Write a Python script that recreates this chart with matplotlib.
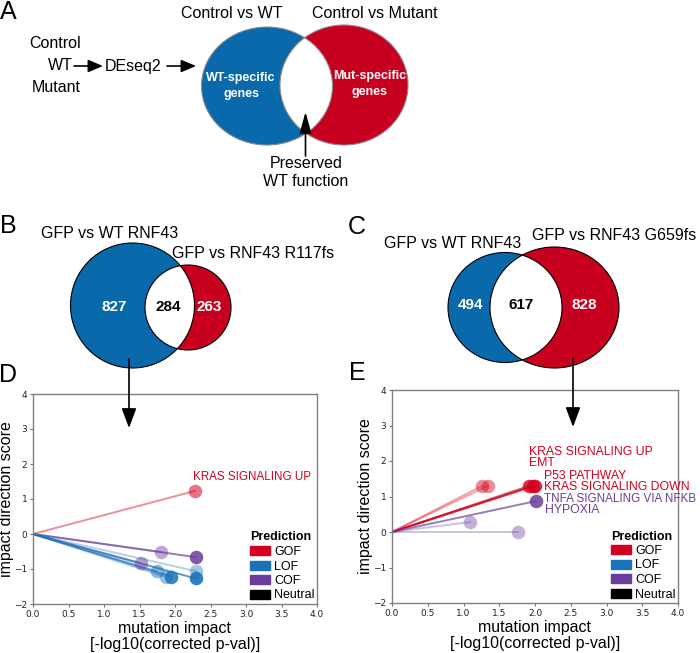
import matplotlib
matplotlib.use('Agg')
import matplotlib.pyplot as plt
from matplotlib.patches import Ellipse, Patch

SANS = 'Liberation Sans'

# panel B / C venn counts (left only, shared, right only)
venn_b = [827, 284, 263]
venn_c = [494, 617, 828]
sets_b = ['GFP vs WT RNF43', 'GFP vs RNF43 R117fs']
sets_c = ['GFP vs WT RNF43', 'GFP vs RNF43 G659fs']

# panel D: mutation impact vs impact direction score
d_x = [2.28, 1.80, 2.29, 1.52, 1.74, 1.87, 1.95, 2.29, 2.29]
d_y = [1.23, -0.51, -0.66, -0.83, -1.06, -1.23, -1.22, -1.06, -1.27]
d_pred = ['GOF', 'COF', 'COF', 'COF', 'LOF', 'LOF', 'LOF', 'LOF', 'LOF']
d_strength = [0.55, 0.45, 0.85, 0.5, 0.5, 0.45, 0.85, 0.4, 0.9]
d_names = ['KRAS SIGNALING UP']

# panel E
e_x = [1.26, 1.34, 1.92, 1.97, 2.00, 2.01, 1.09, 1.76]
e_y = [1.30, 1.30, 1.30, 1.30, 1.30, 0.87, 0.28, 0.00]
e_pred = ['GOF', 'GOF', 'GOF', 'GOF', 'GOF', 'COF', 'COF', 'COF']
e_strength = [0.45, 0.45, 0.8, 0.8, 0.8, 0.85, 0.4, 0.4]
e_names = ['KRAS SIGNALING UP', 'EMT', 'P53 PATHWAY', 'KRAS SIGNALING DOWN',
           'TNFA SIGNALING VIA NFKB', 'HYPOXIA']
e_name_pred = ['GOF', 'GOF', 'GOF', 'GOF', 'COF', 'COF']

pred_order = ['GOF', 'LOF', 'COF', 'Neutral']
pred_col = {'GOF': '#d4001f', 'LOF': '#1a72b8', 'COF': '#6a3d9a', 'Neutral': 'black'}
venn_blue = '#0a69ab'
venn_red = '#c8001f'

fig = plt.figure(figsize=(7, 6.53), dpi=100)


def scatter_panel(rect, xs, ys, preds, strength, ylab_x):
    ax = fig.add_axes(rect)
    for x, y, p, a in zip(xs, ys, preds, strength):
        ax.plot([0, x], [0, y], color=pred_col[p], alpha=a * 0.8, lw=1.4, zorder=2)
        ax.scatter([x], [y], s=95, color=pred_col[p], alpha=a, lw=0, zorder=3)
    ax.set_xlim(0, 4)
    ax.set_ylim(-2, 4)
    ax.set_xticks([i * 0.5 for i in range(9)])
    ax.set_xticklabels(['%.1f' % (i * 0.5) for i in range(9)])
    ax.set_yticks(range(-2, 5))
    ax.tick_params(labelsize=6.5, length=2.5, width=0.8, color='0.45', labelcolor='#222', pad=1.5)
    for s in ax.spines.values():
        s.set_color('0.5')
        s.set_linewidth(1.0)
    ax.set_xlabel('mutation impact\n[-log10(corrected p-val)]', family=SANS,
                  fontsize=11.5, labelpad=2, linespacing=1.05)
    ax.set_ylabel('impact direction score', family=SANS, fontsize=11.5)
    ax.yaxis.set_label_coords(ylab_x, 0.5)
    handles = [Patch(color=pred_col[p], label=p) for p in pred_order]
    leg = ax.legend(handles=handles, title='Prediction', loc='lower right',
                    frameon=False, borderaxespad=0.1, handlelength=1.6,
                    handleheight=0.75, handletextpad=0.3, labelspacing=0.2,
                    prop={'family': SANS, 'size': 9}, alignment='left',
                    borderpad=0.1)
    leg.get_title().set_fontfamily(SANS)
    leg.get_title().set_fontsize(9)
    leg.get_title().set_fontweight('bold')
    return ax


axd = scatter_panel([33 / 700, 1 - 604 / 653, 284 / 700, 210 / 653],
                    d_x, d_y, d_pred, d_strength, -0.068)
axd.text(2.25, 1.63, d_names[0], color=pred_col['GOF'], family=SANS, fontsize=8.4,
         ha='left', va='center')

axe = scatter_panel([392 / 700, 1 - 603 / 653, 286 / 700, 213 / 653],
                    e_x, e_y, e_pred, e_strength, -0.067)
name_pos = [(1.92, 2.25), (1.92, 1.94), (2.13, 1.58), (2.13, 1.26), (2.12, 0.92), (2.14, 0.61)]
name_size = [8.8, 8.8, 8.8, 8.8, 8.4, 8.8]
for (tx, ty), name, p, fs in zip(name_pos, e_names, e_name_pred, name_size):
    axe.text(tx, ty, name, color=pred_col[p], family=SANS, fontsize=fs,
             ha='left', va='center', clip_on=False)

# overlay in pixel coordinates for the schematic / venn panels
ov = fig.add_axes([0, 0, 1, 1], zorder=10)
ov.set_xlim(0, 700)
ov.set_ylim(653, 0)
ov.axis('off')
ov.patch.set_alpha(0)


def venn(c1, c2, col1, col2, ec):
    e1 = Ellipse(c1[:2], c1[2], c1[3], fc=col1, ec='none')
    e2 = Ellipse(c2[:2], c2[2], c2[3], fc=col2, ec='none')
    ov.add_patch(e1)
    ov.add_patch(e2)
    lens = Ellipse(c1[:2], c1[2], c1[3], fc='white', ec='none')
    ov.add_patch(lens)
    lens.set_clip_path(e2)
    for c in (c1, c2):
        ov.add_patch(Ellipse(c[:2], c[2], c[3], fc='none', ec=ec, lw=0.8))


def arrow(x0, y0, x1, y1, hl, hw, lw=1.2):
    ov.annotate('', xy=(x1, y1), xytext=(x0, y0),
                arrowprops=dict(arrowstyle='-|>,head_length=%g,head_width=%g' % (hl, hw),
                                color='black', lw=lw, shrinkA=0, shrinkB=0,
                                mutation_scale=10))


txt = dict(family=SANS, ha='center', va='center')

# panel A
ov.text(8, 12, 'A', fontsize=18, **txt)
ov.text(232, 13, 'Control vs WT', fontsize=11.5, **txt)
ov.text(375, 13, 'Control vs Mutant', fontsize=11.5, **txt)
ov.text(55, 43, 'Control', fontsize=11.5, **txt)
ov.text(60, 66, 'WT', fontsize=11.5, **txt)
ov.text(133, 66, 'DEseq2', fontsize=11.5, **txt)
ov.text(56, 88, 'Mutant', fontsize=11.5, **txt)
arrow(74, 66, 103, 66, 0.9, 0.38)
arrow(167, 66, 196, 66, 0.9, 0.38)
venn((267, 86, 131, 118), (344, 85, 128, 120), venn_blue, venn_red, '0.55')
ov.text(241, 78, 'WT-specific', color='white', fontsize=9, weight='bold', **txt)
ov.text(241, 94, 'genes', color='white', fontsize=9, weight='bold', **txt)
ov.text(370, 76, 'Mut-specific', color='white', fontsize=9, weight='bold', **txt)
ov.text(370, 92, 'genes', color='white', fontsize=9, weight='bold', **txt)
arrow(305.5, 156, 305.5, 112, 1.3, 0.36)
ov.text(306, 164, 'Preserved', fontsize=11.5, **txt)
ov.text(306, 182, 'WT function', fontsize=11.5, **txt)

# panel B
ov.text(8, 226, 'B', fontsize=18, **txt)
ov.text(110, 234, sets_b[0], fontsize=11.5, **txt)
ov.text(253, 253, sets_b[1], fontsize=11.5, **txt)
venn((132.5, 305.5, 124, 125), (188, 307.5, 86, 85), venn_blue, venn_red, 'black')
ov.text(114.5, 307, str(venn_b[0]), color='white', fontsize=11, weight='bold', **txt)
ov.text(168, 307, str(venn_b[1]), color='black', fontsize=11, weight='bold', **txt)
ov.text(209.5, 307, str(venn_b[2]), color='white', fontsize=11, weight='bold', **txt)
arrow(129, 359, 129, 428, 1.2, 0.45)

# panel C
ov.text(357, 227, 'C', fontsize=18, **txt)
ov.text(453, 243, sets_c[0], fontsize=11.5, **txt)
ov.text(614, 235, sets_c[1], fontsize=11.5, **txt)
venn((505, 307.5, 114, 110), (554.5, 307.5, 129, 121), venn_blue, venn_red, 'black')
ov.text(470, 305, str(venn_c[0]), color='white', fontsize=11, weight='bold', **txt)
ov.text(521.5, 305, str(venn_c[1]), color='black', fontsize=11, weight='bold', **txt)
ov.text(584.5, 305, str(venn_c[2]), color='white', fontsize=11, weight='bold', **txt)
arrow(573, 358, 573, 427, 1.2, 0.45)

ov.text(8, 375, 'D', fontsize=18, **txt)
ov.text(357, 373, 'E', fontsize=18, **txt)

fig.savefig('out.png', dpi=100)
